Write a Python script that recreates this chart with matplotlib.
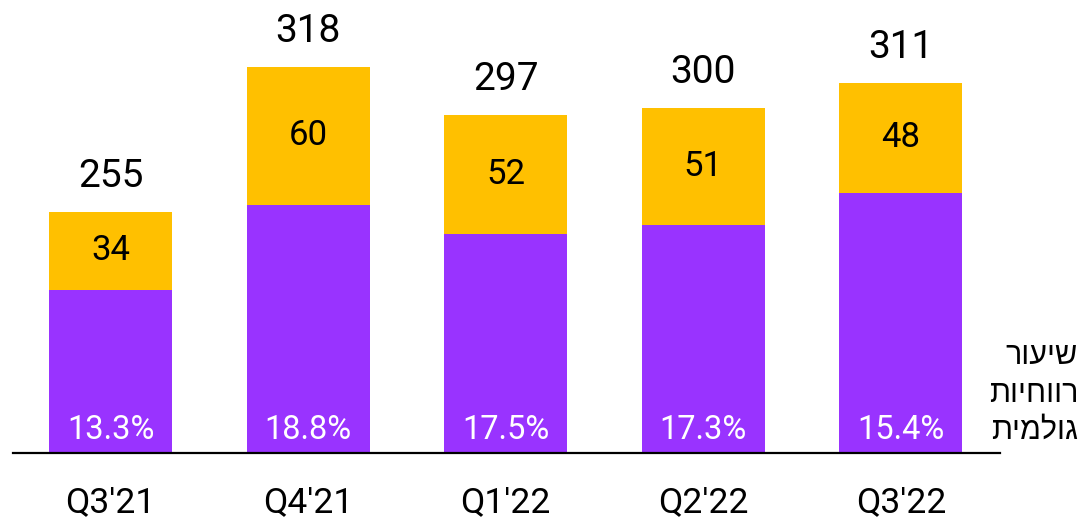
import matplotlib
matplotlib.use("Agg")
import matplotlib.pyplot as plt

quarters = ["Q3'21", "Q4'21", "Q1'22", "Q2'22", "Q3'22"]
totals = [255, 318, 297, 300, 311]
top_values = [34, 60, 52, 51, 48]
margins = ["13.3%", "18.8%", "17.5%", "17.3%", "15.4%"]
hebrew_lines = ["שיעור", "רווחיות", "גולמית"]

bottom_values = [t - v for t, v in zip(totals, top_values)]
PURPLE = "#9933FF"
YELLOW = "#FFC000"
FONT = ["Roboto", "DejaVu Sans"]

W, H = 1086, 522
fig = plt.figure(figsize=(W / 100, H / 100), dpi=100)
ax = fig.add_axes([13 / W, (H - 453) / H, (1000 - 13) / W, 453 / H])
ymin = 150
scale = 2.30  # px per unit
ax.set_ylim(ymin, ymin + 453 / scale)
x = list(range(len(quarters)))
spacing = 197.6
x0 = (13 - 110.5) / spacing
x1 = (1000 - 110.5) / spacing
ax.set_xlim(x0, x1)

width = 123 / spacing
ax.bar(x, [b - ymin for b in bottom_values], bottom=ymin, width=width, color=PURPLE, zorder=2)
ax.bar(x, top_values, bottom=bottom_values, width=width, color=YELLOW, zorder=2)

for xi, t, v, b, m, q in zip(x, totals, top_values, bottom_values, margins, quarters):
    ax.annotate(str(t), (xi, t), xytext=(0, 12), textcoords="offset points",
                ha="center", va="bottom", fontsize=28, family=FONT, color="black")
    ax.text(xi, b + v / 2, str(v), ha="center", va="center", fontsize=25,
            family=FONT, color="black", zorder=3)
    ax.annotate(m, (xi, ymin), xytext=(0, 5), textcoords="offset points",
                ha="center", va="bottom", fontsize=23.5, family=FONT, color="white", zorder=3)
    ax.annotate(q, (xi, ymin), xytext=(0, -36), textcoords="offset points",
                ha="center", va="center", fontsize=25.5, family=FONT, color="black",
                annotation_clip=False)

ax.axhline(ymin, color="black", lw=1.6, zorder=4, clip_on=False)
for s in ax.spines.values():
    s.set_visible(False)
ax.set_xticks([])
ax.set_yticks([])

for i, line in enumerate(hebrew_lines):
    fig.text(1078 / W, 1 - (356 + 37.5 * i) / H, line[::-1], ha="right", va="center",
             fontsize=22, family=["Liberation Sans", "DejaVu Sans"], color="black")

fig.savefig("out.png", dpi=100)
